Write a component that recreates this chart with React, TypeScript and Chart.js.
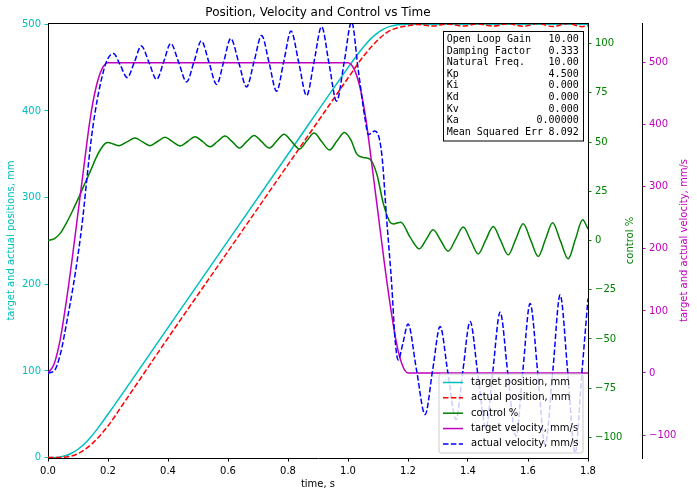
import React, { useEffect, useRef } from "react";
import { Chart, registerables } from "chart.js";

Chart.register(...registerables);

const W = 697;
const H = 496;

const TITLE = "Position, Velocity and Control vs Time";
const X_TITLE = "time, s";
const Y_POS_TITLE = "target and actual positions, mm";
const Y_CTRL_TITLE = "control %";
const Y_VEL_TITLE = "target and actual velocity, mm/s";

const X_TICKS = [0, 0.2, 0.4, 0.6, 0.8, 1.0, 1.2, 1.4, 1.6, 1.8];
const POS_TICKS = [0, 100, 200, 300, 400, 500];
const CTRL_TICKS = [-100, -75, -50, -25, 0, 25, 50, 75, 100];
const VEL_TICKS = [-100, 0, 100, 200, 300, 400, 500];

const LEGEND_LABELS = [
  "target position, mm",
  "actual position, mm",
  "control %",
  "target velocity, mm/s",
  "actual velocity, mm/s",
];

const INFO_LABELS = ["Open Loop Gain", "Damping Factor", "Natural Freq.", "Kp", "Ki", "Kd", "Kv", "Ka", "Mean Squared Err"];
const INFO_VALUES = ["10.00", "0.333", "10.00", "4.500", "0.000", "0.000", "0.000", "0.00000", "8.092"];

// target profile (time, s)
const tTarget = [0, 0.02, 0.04, 0.06, 0.08, 0.1, 0.12, 0.14, 0.16, 0.18, 0.2, 0.4, 0.6, 0.8, 1.0, 1.02, 1.04, 1.06, 1.08, 1.1, 1.12, 1.14, 1.16, 1.18, 1.2, 1.5, 1.8];
const targetPosition = [0, 0.1, 0.8, 2.4, 5.3, 9.6, 15.4, 22.6, 31.1, 40.4, 50, 150, 250, 350, 450, 459.6, 468.9, 477.4, 484.6, 490.4, 494.7, 497.6, 499.2, 499.9, 500, 500, 500];
const targetVelocity = [0, 14, 52, 112, 182, 258, 334, 408, 460, 490, 500, 500, 500, 500, 500, 490, 460, 408, 334, 258, 182, 112, 52, 14, 0, 0, 0];

// actual position
const tActualPos = [0, 0.05, 0.1, 0.15, 0.2, 0.25, 0.3, 0.4, 0.6, 0.8, 1.0, 1.012, 1.034, 1.057, 1.078, 1.1, 1.129, 1.156, 1.18, 1.2, 1.23, 1.282, 1.333, 1.383, 1.433, 1.483, 1.533, 1.583, 1.633, 1.683, 1.733, 1.78, 1.8];
const actualPosition = [0, 0.3, 4.5, 17, 36.5, 61.5, 87, 138, 238, 338, 438, 444, 455, 465.5, 474, 482, 490.5, 495, 497.2, 498.3, 499.8, 498, 500.2, 498, 500.4, 497.9, 500.6, 497.7, 500.8, 497.5, 501, 497.3, 498.4];

// control %
const tControl = [0, 0.02, 0.04, 0.06, 0.08, 0.1, 0.12, 0.142, 0.16, 0.176, 0.19, 0.2, 0.218, 0.237, 0.263, 0.29, 0.315, 0.34, 0.365, 0.39, 0.415, 0.44, 0.465, 0.49, 0.515, 0.54, 0.565, 0.59, 0.614, 0.638, 0.662, 0.687, 0.712, 0.738, 0.762, 0.787, 0.812, 0.838, 0.862, 0.887, 0.912, 0.938, 0.963, 0.988, 1.01, 1.029, 1.051, 1.073, 1.096, 1.118, 1.14, 1.151, 1.176, 1.207, 1.238, 1.261, 1.284, 1.309, 1.334, 1.359, 1.384, 1.409, 1.434, 1.459, 1.484, 1.509, 1.534, 1.559, 1.584, 1.609, 1.634, 1.658, 1.682, 1.708, 1.734, 1.758, 1.782, 1.8];
const controlPct = [0, 0.8, 3.5, 8.5, 14.5, 21, 28, 35.5, 42, 46.5, 49.2, 49.8, 49, 48.2, 50.1, 52.1, 50.1, 48.2, 50.3, 52.4, 50.2, 48, 50.3, 52.7, 50.3, 47.6, 50.3, 53.1, 50.2, 47, 50.2, 53.4, 50.2, 47, 50.5, 54, 50.3, 46.5, 50.5, 54.6, 50.3, 46, 50.5, 54.9, 51, 44, 42.2, 41.4, 33.8, 18.6, 9.3, 8.4, 9.3, 1.7, -4.2, 0.6, 5.4, 0, -5.4, 0.7, 6.8, 0, -6.8, 0.2, 7.1, -0.1, -7.3, 0.6, 8.5, 0.2, -8.1, 0.5, 9, -0.2, -9.3, 0.6, 10.5, 5.9];

// actual velocity
const tActualVel = [0, 0.02, 0.042, 0.064, 0.084, 0.1, 0.116, 0.13, 0.145, 0.164, 0.187, 0.2, 0.218, 0.241, 0.264, 0.288, 0.311, 0.337, 0.362, 0.386, 0.409, 0.436, 0.462, 0.487, 0.511, 0.537, 0.562, 0.586, 0.609, 0.636, 0.662, 0.687, 0.712, 0.737, 0.762, 0.786, 0.81, 0.836, 0.862, 0.887, 0.912, 0.937, 0.962, 0.987, 1.012, 1.034, 1.057, 1.068, 1.089, 1.112, 1.129, 1.146, 1.156, 1.167, 1.184, 1.2, 1.228, 1.257, 1.282, 1.307, 1.333, 1.36, 1.383, 1.407, 1.433, 1.46, 1.483, 1.507, 1.533, 1.56, 1.583, 1.607, 1.633, 1.657, 1.683, 1.707, 1.733, 1.757, 1.78, 1.8];
const actualVelocity = [0, 3, 32, 86, 140, 190, 250, 315, 380, 440, 490, 507, 515, 496, 476, 501, 527, 500, 473, 502, 531, 500, 469, 502, 535, 500, 465, 502, 539, 500, 461, 502, 544, 500, 454, 502, 551, 500, 447, 502, 558, 498, 438, 500, 566, 489, 409, 384, 390, 355, 247, 140, 60, 21, 50, 79, 6, -67, 4, 75, 0, -75, 4, 83, -3, -89, 4, 98, -2, -102, 5, 112, -2, -116, 5, 126, -2, -129, 3, 120];

const C_CYAN = "#00bfbf";
const C_RED = "#ff0000";
const C_GREEN = "#008000";
const C_MAGENTA = "#bf00bf";
const C_BLUE = "#0000ff";
const DASH = [5.5, 2.4];

const FONT = "DejaVu Sans";
const MONO = "DejaVu Sans Mono";

function xy(ts: number[], vs: number[]) {
  return ts.map((t, i) => ({ x: t, y: vs[i] }));
}

function fmtNum(v: number) {
  return v < 0 ? "\u2212" + Math.abs(v) : String(v);
}

const LEGEND_STYLE = [
  { color: C_CYAN, dash: [] as number[] },
  { color: C_RED, dash: DASH },
  { color: C_GREEN, dash: [] as number[] },
  { color: C_MAGENTA, dash: [] as number[] },
  { color: C_BLUE, dash: DASH },
];

const decor = {
  id: "decor",
  afterDatasetsDraw(chart: any) {
    const ctx = chart.ctx as CanvasRenderingContext2D;
    const ca = chart.chartArea;
    ctx.save();
    // top spine
    ctx.strokeStyle = "#000";
    ctx.lineWidth = 1;
    ctx.beginPath();
    ctx.moveTo(ca.left, Math.round(ca.top) + 0.5);
    ctx.lineTo(ca.right, Math.round(ca.top) + 0.5);
    ctx.stroke();

    // info box
    const ix = 443.5, iy = 31.5, iw = 140, ih = 109.5;
    ctx.fillStyle = "#fff";
    ctx.fillRect(ix, iy, iw, ih);
    ctx.strokeStyle = "#000";
    ctx.lineWidth = 1;
    ctx.strokeRect(ix, iy, iw, ih);
    ctx.font = `10px "${MONO}"`;
    ctx.fillStyle = "#000";
    ctx.textBaseline = "middle";
    for (let i = 0; i < INFO_LABELS.length; i++) {
      const y = 39.5 + i * 11.6;
      ctx.textAlign = "left";
      ctx.fillText(INFO_LABELS[i], 446.7, y);
      ctx.textAlign = "right";
      ctx.fillText(INFO_VALUES[i], 578.7, y);
    }

    // legend
    const lr = ca.right - 5, lb = ca.bottom - 5;
    const lw = 144, lh = 79;
    const lx = lr - lw, ly = lb - lh;
    ctx.beginPath();
    const r = 2;
    ctx.moveTo(lx + r, ly);
    ctx.lineTo(lx + lw - r, ly);
    ctx.quadraticCurveTo(lx + lw, ly, lx + lw, ly + r);
    ctx.lineTo(lx + lw, ly + lh - r);
    ctx.quadraticCurveTo(lx + lw, ly + lh, lx + lw - r, ly + lh);
    ctx.lineTo(lx + r, ly + lh);
    ctx.quadraticCurveTo(lx, ly + lh, lx, ly + lh - r);
    ctx.lineTo(lx, ly + r);
    ctx.quadraticCurveTo(lx, ly, lx + r, ly);
    ctx.closePath();
    ctx.fillStyle = "rgba(255,255,255,0.8)";
    ctx.fill();
    ctx.strokeStyle = "#cccccc";
    ctx.lineWidth = 1;
    ctx.stroke();
    ctx.font = `10px "${FONT}"`;
    ctx.textAlign = "left";
    ctx.textBaseline = "middle";
    for (let i = 0; i < LEGEND_LABELS.length; i++) {
      const y = ly + 8.5 + i * 15.35;
      ctx.strokeStyle = LEGEND_STYLE[i].color;
      ctx.lineWidth = 1.5;
      ctx.setLineDash(LEGEND_STYLE[i].dash);
      ctx.beginPath();
      ctx.moveTo(lx + 4, y);
      ctx.lineTo(lx + 24, y);
      ctx.stroke();
      ctx.setLineDash([]);
      ctx.fillStyle = "#000";
      ctx.fillText(LEGEND_LABELS[i], lx + 32, y);
    }
    ctx.restore();
  },
  afterDraw(chart: any) {
    const ctx = chart.ctx as CanvasRenderingContext2D;
    const ca = chart.chartArea;
    const midX = (ca.left + ca.right) / 2;
    const midY = (ca.top + ca.bottom) / 2;
    ctx.save();
    ctx.textAlign = "center";
    ctx.textBaseline = "middle";
    ctx.font = `12px "${FONT}"`;
    ctx.fillStyle = "#000";
    ctx.fillText(TITLE, midX, 13);
    ctx.font = `10px "${FONT}"`;
    ctx.fillText(X_TITLE, midX, 484);
    const vt = (text: string, x: number, color: string) => {
      ctx.save();
      ctx.translate(x, midY);
      ctx.rotate(-Math.PI / 2);
      ctx.fillStyle = color;
      ctx.fillText(text, 0, 0);
      ctx.restore();
    };
    vt(Y_POS_TITLE, 11.5, C_CYAN);
    vt(Y_CTRL_TITLE, 630, C_GREEN);
    vt(Y_VEL_TITLE, 684.5, C_MAGENTA);
    ctx.restore();
  },
};

function axisCommon(color: string, tickColor: string) {
  return {
    grid: { display: true, drawOnChartArea: false, drawTicks: true, tickLength: 3.5, tickColor: tickColor, tickWidth: 1 },
    border: { display: true, color: "#000", width: 1 },
    ticks: { color: color, font: { family: FONT, size: 10 }, padding: 3.5, autoSkip: false, maxRotation: 0 },
  };
}

export default function App() {
  const ref = useRef<HTMLCanvasElement>(null);
  useEffect(() => {
    const canvas = ref.current;
    if (!canvas) return;
    const chart = new Chart(canvas, {
      type: "line",
      data: {
        datasets: [
          { label: LEGEND_LABELS[0], data: xy(tTarget, targetPosition), yAxisID: "y", borderColor: C_CYAN, order: 4 },
          { label: LEGEND_LABELS[1], data: xy(tActualPos, actualPosition), yAxisID: "y", borderColor: C_RED, borderDash: DASH, order: 3 },
          { label: LEGEND_LABELS[2], data: xy(tControl, controlPct), yAxisID: "y1", borderColor: C_GREEN, order: 2 },
          { label: LEGEND_LABELS[3], data: xy(tTarget, targetVelocity), yAxisID: "y2", borderColor: C_MAGENTA, order: 1 },
          { label: LEGEND_LABELS[4], data: xy(tActualVel, actualVelocity), yAxisID: "y2", borderColor: C_BLUE, borderDash: DASH, order: 0 },
        ] as any,
      },
      options: {
        responsive: false,
        animation: false,
        devicePixelRatio: 1,
        layout: { padding: { top: 23, left: 0, right: 0, bottom: 0 } },
        plugins: { legend: { display: false }, title: { display: false }, tooltip: { enabled: false } },
        elements: {
          point: { radius: 0 },
          line: { borderWidth: 1.5, cubicInterpolationMode: "monotone", fill: false },
        },
        scales: {
          x: {
            type: "linear",
            position: "bottom",
            min: 0,
            max: 1.8,
            afterFit: (s: any) => { s.height = 38; },
            afterBuildTicks: (s: any) => { s.ticks = X_TICKS.map((v) => ({ value: v })); },
            ...axisCommon("#000", "#000"),
            ticks: { ...axisCommon("#000", "#000").ticks, callback: (v: any) => Number(v).toFixed(1) },
          },
          y: {
            type: "linear",
            position: "left",
            min: -0.5,
            max: 501.5,
            afterFit: (s: any) => { s.width = 48; },
            afterBuildTicks: (s: any) => { s.ticks = POS_TICKS.map((v) => ({ value: v })); },
            ...axisCommon(C_CYAN, C_CYAN),
            ticks: { ...axisCommon(C_CYAN, C_CYAN).ticks, callback: (v: any) => fmtNum(Number(v)) },
          },
          y1: {
            type: "linear",
            position: "right",
            min: -110.5,
            max: 110.5,
            afterFit: (s: any) => { s.width = 54; },
            afterBuildTicks: (s: any) => { s.ticks = CTRL_TICKS.map((v) => ({ value: v })); },
            ...axisCommon(C_GREEN, C_GREEN),
            ticks: { ...axisCommon(C_GREEN, C_GREEN).ticks, callback: (v: any) => fmtNum(Number(v)) },
          },
          y2: {
            type: "linear",
            position: "right",
            min: -137,
            max: 564,
            afterFit: (s: any) => { s.width = 55; },
            afterBuildTicks: (s: any) => { s.ticks = VEL_TICKS.map((v) => ({ value: v })); },
            ...axisCommon(C_MAGENTA, C_MAGENTA),
            ticks: { ...axisCommon(C_MAGENTA, C_MAGENTA).ticks, callback: (v: any) => fmtNum(Number(v)) },
          },
        },
      } as any,
      plugins: [decor],
    });
    return () => chart.destroy();
  }, []);
  return (
    <div style={{ position: "fixed", left: 0, top: 0, width: W, height: H, background: "#fff" }}>
      <canvas ref={ref} width={W} height={H} style={{ display: "block", width: W, height: H }} />
    </div>
  );
}
